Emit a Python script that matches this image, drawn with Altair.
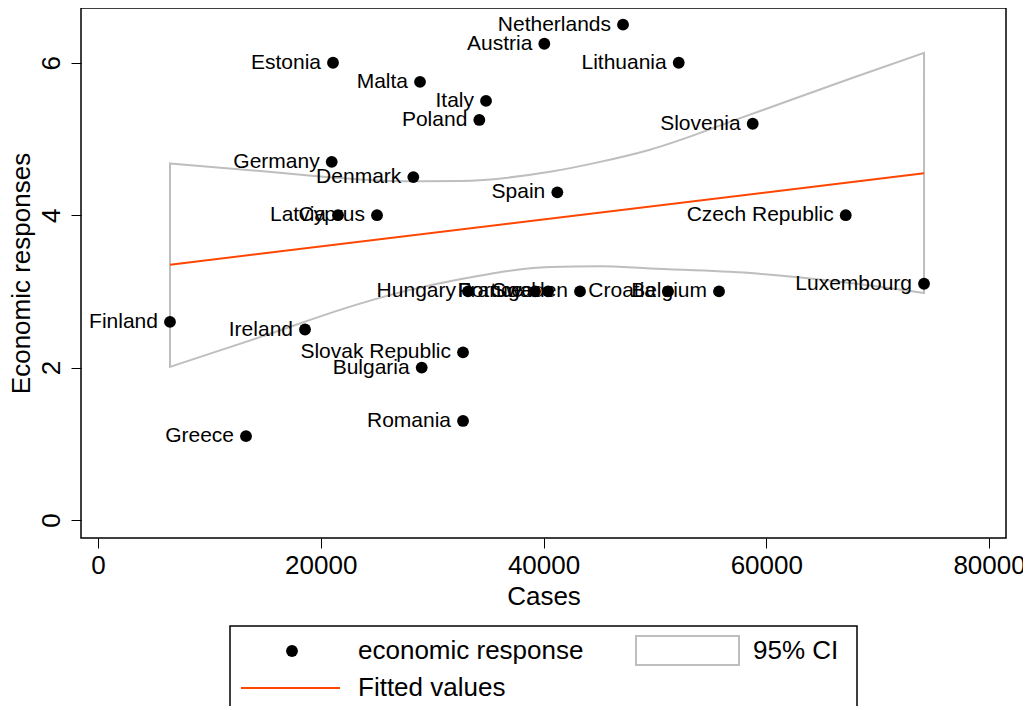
import altair as alt
import pandas as pd

FONT = "Liberation Sans"

# ---- data ----
countries = ["Netherlands", "Austria", "Estonia", "Lithuania", "Malta", "Italy", "Poland",
             "Slovenia", "Germany", "Denmark", "Spain", "Latvia", "Cyprus", "Czech Republic",
             "Luxembourg", "Hungary", "France", "Portugal", "Sweden", "Croatia", "Belgium",
             "Finland", "Ireland", "Slovak Republic", "Bulgaria", "Greece", "Romania"]
cases = [47136, 40070, 21099, 52137, 28910, 34836, 34235,
         58781, 20982, 28309, 41237, 21548, 25049, 67130,
         74161, 33220, 39235, 40402, 43275, 51176, 55755,
         6464, 18585, 32771, 29063, 13288, 32771]
econ = [6.5, 6.25, 6.0, 6.0, 5.75, 5.5, 5.25,
        5.2, 4.7, 4.5, 4.3, 4.0, 4.0, 4.0,
        3.1, 3.0, 3.0, 3.0, 3.0, 3.0, 3.0,
        2.6, 2.5, 2.2, 2.0, 1.1, 1.3]

fit_x = [6464, 74161]
fit_y = [3.35, 4.55]

ci_x = [6464, 14545, 23523, 28012, 32502, 40582, 45071, 49560, 58538, 67517, 74161]
ci_upper = [4.68, 4.58, 4.47, 4.445, 4.45, 4.57, 4.70, 4.86, 5.32, 5.79, 6.13]
ci_lower = [2.01, 2.40, 2.84, 3.02, 3.16, 3.32, 3.33, 3.30, 3.24, 3.11, 2.98]

x_ticks = [0, 20000, 40000, 60000, 80000]
y_ticks = [0, 2, 4, 6]

df = pd.DataFrame({"country": countries, "cases": cases, "econ": econ})
fit_df = pd.DataFrame({"cases": fit_x, "fit": fit_y})
ci_df = pd.DataFrame({"cases": ci_x, "lo": ci_lower, "hi": ci_upper})
one = pd.DataFrame({"k": [0]})

xscale = alt.Scale(domain=[-1526, 81520], nice=False, zero=False)
yscale = alt.Scale(domain=[-0.236, 6.719], nice=False, zero=False)

xaxis = alt.Axis(values=x_ticks, format="d", title="Cases", grid=False, domain=False,
                 tickSize=10, tickColor="black", tickWidth=1,
                 labelFontSize=26, titleFontSize=26, labelColor="black", titleColor="black",
                 labelFont=FONT, titleFont=FONT, titleFontWeight="normal",
                 labelPadding=4, titlePadding=5, labelFlush=False)
yaxis = alt.Axis(values=y_ticks, title="Economic responses", grid=False, domain=False,
                 tickSize=10, tickColor="black", tickWidth=1, labelAngle=270,
                 labelFontSize=26, titleFontSize=26, labelColor="black", titleColor="black",
                 labelFont=FONT, titleFont=FONT, titleFontWeight="normal",
                 labelPadding=7, titlePadding=4, labelFlush=False)

ci = alt.Chart(ci_df).mark_area(fill="white", stroke="#BEBEBE", strokeWidth=2,
                                interpolate="monotone").encode(
    x=alt.X("cases:Q", scale=xscale, axis=xaxis),
    y=alt.Y("lo:Q", scale=yscale, axis=yaxis),
    y2="hi:Q",
)

fit = alt.Chart(fit_df).mark_line(color="#FF4500", strokeWidth=2).encode(
    x=alt.X("cases:Q", scale=xscale, axis=xaxis),
    y=alt.Y("fit:Q", scale=yscale, axis=yaxis),
)

pts = alt.Chart(df).mark_point(filled=True, color="black", size=140, opacity=1).encode(
    x=alt.X("cases:Q", scale=xscale, axis=xaxis),
    y=alt.Y("econ:Q", scale=yscale, axis=yaxis),
)

labels = alt.Chart(df).mark_text(align="right", baseline="middle", dx=-12, fontSize=21,
                                 font=FONT, color="black").encode(
    x=alt.X("cases:Q", scale=xscale, axis=xaxis),
    y=alt.Y("econ:Q", scale=yscale, axis=yaxis),
    text="country:N",
)

# ---- legend (drawn below the plot) ----
leg_box = alt.Chart(one).mark_rect(fill="white", stroke="black", strokeWidth=1.5).encode(
    x=alt.value(149), x2=alt.value(776), y=alt.value(618), y2=alt.value(730))
leg_dot = alt.Chart(one).mark_point(filled=True, color="black", size=140, opacity=1).encode(
    x=alt.value(211), y=alt.value(643))
leg_t1 = alt.Chart(one).mark_text(text="economic response", align="left", baseline="middle",
                                  fontSize=26, font=FONT, color="black").encode(
    x=alt.value(277), y=alt.value(643))
leg_ci = alt.Chart(one).mark_rect(fill="white", stroke="#BEBEBE", strokeWidth=2).encode(
    x=alt.value(555), x2=alt.value(658), y=alt.value(628), y2=alt.value(657))
leg_t2 = alt.Chart(one).mark_text(text="95% CI", align="left", baseline="middle",
                                  fontSize=26, font=FONT, color="black").encode(
    x=alt.value(672), y=alt.value(643))
leg_line = alt.Chart(one).mark_rule(color="#FF4500", strokeWidth=2).encode(
    x=alt.value(160), x2=alt.value(259), y=alt.value(680))
leg_t3 = alt.Chart(one).mark_text(text="Fitted values", align="left", baseline="middle",
                                  fontSize=26, font=FONT, color="black").encode(
    x=alt.value(277), y=alt.value(680))

chart = alt.layer(ci, fit, pts, labels, leg_box, leg_dot, leg_t1, leg_ci, leg_t2,
                  leg_line, leg_t3).properties(
    width=925, height=530,
    autosize=alt.AutoSizeParams(type="none"),
    padding={"left": 73, "top": 0, "right": 17, "bottom": 168},
    background="white",
).configure_view(stroke="black", strokeWidth=1.5)

chart.save("out.html", embed_options={"renderer": "svg", "actions": False})
